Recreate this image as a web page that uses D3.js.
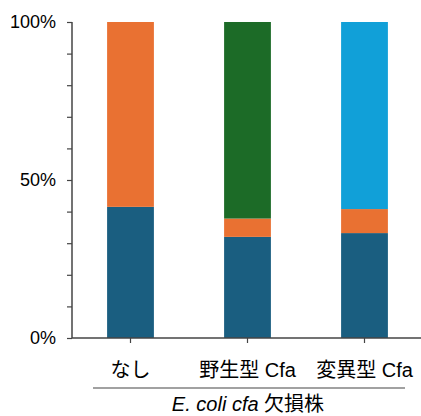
<!DOCTYPE html>
<html>
<head>
<meta charset="utf-8">
<script src="https://cdn.jsdelivr.net/npm/d3@7"></script>
<style>
  body { margin: 0; background: #fff; }
  text { font-family: "Liberation Sans", Arial, "Noto Sans CJK JP", sans-serif; }
</style>
</head>
<body>
<div id="chart"></div>
<script>
// data (percent of total)
const categories = ["なし", "野生型 Cfa", "変異型 Cfa"];
const baseShare = [41.5, 32, 33.2];      // dark blue bottom segment
const orangeShare = [58.5, 5.8, 7.6];    // orange segment
const topShare = [0, 62.2, 59.2];        // green (wild type) / light blue (mutant)
const topColors = ["#e97132", "#1c6b27", "#11a0d8"];
const yTickLabels = [0, 50, 100];

const width = 421, height = 416;
const margin = { left: 72, right: 0, top: 22, bottom: 78 };

const svg = d3.select("#chart").append("svg")
  .attr("width", width)
  .attr("height", height);

const x = d3.scaleBand()
  .domain(categories)
  .range([72, 423])
  .paddingInner(0.6)
  .paddingOuter(0.3);

const y = d3.scaleLinear()
  .domain([0, 100])
  .range([height - margin.bottom, margin.top]);

// build stacked rows
const rows = categories.map((c, i) => ({
  cat: c,
  base: baseShare[i],
  orange: orangeShare[i],
  top: topShare[i],
  topColor: topColors[i]
}));

const g = svg.append("g");

rows.forEach(r => {
  const segs = [
    { y0: 0, y1: r.base, color: "#1a5e80" },
    { y0: r.base, y1: r.base + r.orange, color: "#e97132" },
    { y0: r.base + r.orange, y1: r.base + r.orange + r.top, color: r.topColor }
  ];
  g.selectAll(null)
    .data(segs.filter(s => s.y1 > s.y0))
    .join("rect")
    .attr("x", x(r.cat))
    .attr("width", x.bandwidth())
    .attr("y", d => y(d.y1))
    .attr("height", d => y(d.y0) - y(d.y1))
    .attr("fill", d => d.color);
});

// y axis
const yAxis = svg.append("g")
  .attr("transform", `translate(${margin.left},0)`)
  .call(d3.axisLeft(y).tickValues(d3.range(0, 101, 10)).tickSize(5).tickFormat(""));
yAxis.select(".domain").attr("stroke", "#444").attr("stroke-width", 1.5).attr("d", `M0,${y(100)}V${y(0)}`);
yAxis.selectAll(".tick line").attr("stroke", "#444").attr("stroke-width", 1.2);

svg.selectAll(".ylab")
  .data(yTickLabels)
  .join("text")
  .attr("class", "ylab")
  .attr("x", 56)
  .attr("y", d => y(d))
  .attr("dy", "0.36em")
  .attr("text-anchor", "end")
  .attr("font-size", 18)
  .attr("fill", "#000")
  .text(d => d + "%");

// x axis
const xAxis = svg.append("g")
  .attr("transform", `translate(0,${y(0)})`)
  .call(d3.axisBottom(x).tickSize(5).tickSizeOuter(0).tickFormat(""));
xAxis.select(".domain").attr("stroke", "#444").attr("stroke-width", 1.5).attr("d", `M${margin.left},0H${width}`);
xAxis.selectAll(".tick line").attr("stroke", "#444").attr("stroke-width", 1.2);

svg.selectAll(".xlab")
  .data(categories)
  .join("text")
  .attr("class", "xlab")
  .attr("x", d => x(d) + x.bandwidth() / 2)
  .attr("y", 377)
  .attr("text-anchor", "middle")
  .attr("font-size", 20)
  .attr("fill", "#000")
  .text(d => d);

// group bracket line and title
svg.append("line")
  .attr("x1", 93).attr("x2", 405)
  .attr("y1", 388).attr("y2", 388)
  .attr("stroke", "#444").attr("stroke-width", 1.2);

const title = svg.append("text")
  .attr("x", 248)
  .attr("y", 411)
  .attr("text-anchor", "middle")
  .attr("font-size", 20)
  .attr("fill", "#000");
title.append("tspan").attr("font-style", "italic").text("E. coli cfa");
title.append("tspan").text(" 欠損株");
</script>
</body>
</html>
